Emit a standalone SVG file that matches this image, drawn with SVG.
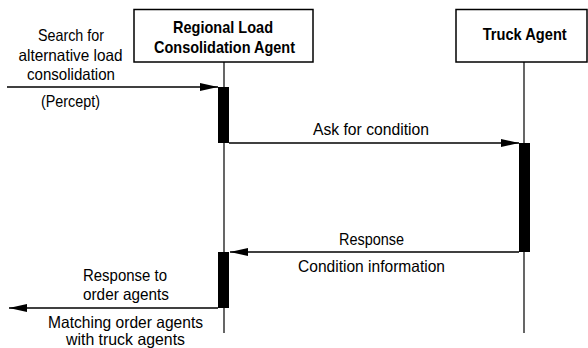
<svg xmlns="http://www.w3.org/2000/svg" width="588" height="348" viewBox="0 0 588 348">
<style>
.box{fill:#fff;stroke:#000;stroke-width:1.5}
.life{stroke:#000;stroke-width:1.2;fill:none}
.act{fill:#000}
.msg{stroke:#000;stroke-width:1.5;fill:none}
.h{font-family:"Liberation Sans",Arial,sans-serif;font-weight:bold;font-size:17px;text-anchor:middle;fill:#000}
.t{font-family:"Liberation Sans",Arial,sans-serif;font-size:16.5px;text-anchor:middle;fill:#000}
</style>
<defs>
<marker id="ah" viewBox="0 0 18 10" refX="18" refY="5" markerWidth="18" markerHeight="10" markerUnits="userSpaceOnUse" orient="auto">
<path d="M0,1 L18,5 L0,9 Z" fill="#000"/>
</marker>
</defs>
<g id="rlca">
<rect class="box" x="134" y="9.5" width="179" height="52.5"/>
<text class="h" x="223" y="33" textLength="100" lengthAdjust="spacingAndGlyphs">Regional Load</text>
<text class="h" x="224.5" y="53" textLength="141" lengthAdjust="spacingAndGlyphs">Consolidation Agent</text>
<line class="life" x1="224" y1="62" x2="224" y2="333"/>
<rect class="act" x="218" y="87" width="11" height="56"/>
<rect class="act" x="218" y="252" width="11" height="56"/>
</g>
<g id="truck">
<rect class="box" x="456" y="9.5" width="131" height="52.5"/>
<text class="h" x="524.7" y="40" textLength="84" lengthAdjust="spacingAndGlyphs">Truck Agent</text>
<line class="life" x1="524" y1="62" x2="524" y2="333"/>
<rect class="act" x="519" y="143" width="11" height="109"/>
</g>
<g id="connectors">
<line class="msg" x1="7" y1="87" x2="218" y2="87" marker-end="url(#ah)"/>
<line class="msg" x1="229" y1="143" x2="519" y2="143" marker-end="url(#ah)"/>
<line class="msg" x1="519" y1="252" x2="230" y2="252" marker-end="url(#ah)"/>
<line class="msg" x1="218" y1="308" x2="9" y2="308" marker-end="url(#ah)"/>
</g>
<g id="labels">
<text class="t" x="71" y="40.5" textLength="66" lengthAdjust="spacingAndGlyphs">Search for</text>
<text class="t" x="70.5" y="60.5" textLength="104" lengthAdjust="spacingAndGlyphs">alternative load</text>
<text class="t" x="71" y="80" textLength="88" lengthAdjust="spacingAndGlyphs">consolidation</text>
<text class="t" x="70.5" y="107" textLength="59" lengthAdjust="spacingAndGlyphs">(Percept)</text>
<text class="t" x="371" y="135" textLength="116" lengthAdjust="spacingAndGlyphs">Ask for condition</text>
<text class="t" x="371.5" y="245" textLength="65" lengthAdjust="spacingAndGlyphs">Response</text>
<text class="t" x="371.5" y="271.5" textLength="147" lengthAdjust="spacingAndGlyphs">Condition information</text>
<text class="t" x="125" y="281" textLength="84" lengthAdjust="spacingAndGlyphs">Response to</text>
<text class="t" x="126" y="300" textLength="86" lengthAdjust="spacingAndGlyphs">order agents</text>
<text class="t" x="125.5" y="328" textLength="155" lengthAdjust="spacingAndGlyphs">Matching order agents</text>
<text class="t" x="125.5" y="345" textLength="119" lengthAdjust="spacingAndGlyphs">with truck agents</text>
</g>
</svg>
